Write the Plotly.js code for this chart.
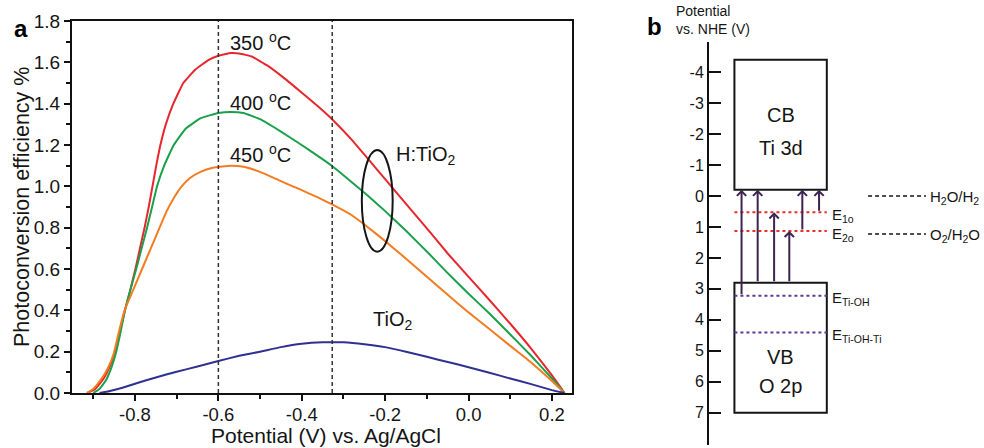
<!DOCTYPE html>
<html><head><meta charset="utf-8">
<script src="https://cdn.plot.ly/plotly-3.0.1.min.js"></script>
<style>html,body{margin:0;padding:0;background:#fff}#chart{width:984px;height:448px}</style>
</head><body><div id="chart"></div>
<script>
// ---------- Panel a data: photoconversion efficiency (%) vs potential (V vs Ag/AgCl)
const x350 = [-0.915,-0.895,-0.875,-0.86,-0.848,-0.836,-0.824,-0.811,-0.799,-0.788,-0.777,-0.767,-0.758,-0.749,-0.739,-0.726,-0.708,-0.684,-0.655,-0.625,-0.6,-0.57,-0.55,-0.52,-0.483,-0.44,-0.404,-0.36,-0.325,-0.28,-0.24,-0.2,-0.15,-0.093,-0.05,0.0,0.05,0.1,0.15,0.2,0.23];
const y350 = [0,0.02,0.07,0.13,0.2,0.3,0.4,0.5,0.6,0.7,0.8,0.9,1.0,1.1,1.2,1.3,1.4,1.5,1.565,1.61,1.632,1.645,1.643,1.628,1.585,1.52,1.46,1.385,1.32,1.225,1.13,1.035,0.915,0.78,0.675,0.562,0.45,0.335,0.215,0.085,0];
const x400 = [-0.9,-0.885,-0.87,-0.857,-0.845,-0.834,-0.824,-0.811,-0.797,-0.784,-0.771,-0.759,-0.747,-0.73,-0.707,-0.678,-0.642,-0.6,-0.57,-0.54,-0.5,-0.45,-0.404,-0.36,-0.325,-0.28,-0.24,-0.2,-0.15,-0.093,-0.05,0.0,0.05,0.1,0.15,0.2,0.23];
const y400 = [0,0.02,0.06,0.12,0.2,0.3,0.4,0.5,0.6,0.7,0.8,0.9,1.0,1.1,1.2,1.28,1.33,1.355,1.36,1.355,1.325,1.265,1.205,1.145,1.095,1.02,0.952,0.88,0.785,0.67,0.58,0.48,0.385,0.283,0.18,0.07,0];
const x450 = [-0.915,-0.9,-0.88,-0.865,-0.851,-0.838,-0.825,-0.804,-0.783,-0.762,-0.741,-0.724,-0.705,-0.688,-0.668,-0.643,-0.613,-0.57,-0.54,-0.5,-0.45,-0.404,-0.36,-0.325,-0.28,-0.24,-0.2,-0.15,-0.093,-0.05,0.0,0.05,0.1,0.15,0.2,0.23];
const y450 = [0,0.02,0.07,0.12,0.19,0.3,0.4,0.5,0.6,0.7,0.8,0.88,0.95,1.0,1.04,1.07,1.09,1.1,1.095,1.07,1.025,0.985,0.945,0.91,0.86,0.8,0.735,0.65,0.55,0.475,0.39,0.31,0.228,0.148,0.058,0];
const xTiO2 = [-0.885,-0.86,-0.83,-0.8,-0.75,-0.7,-0.65,-0.6,-0.55,-0.5,-0.45,-0.4,-0.35,-0.3,-0.25,-0.2,-0.15,-0.1,-0.05,0.0,0.05,0.1,0.15,0.2,0.23];
const yTiO2 = [0,0.01,0.025,0.045,0.075,0.103,0.128,0.155,0.18,0.2,0.222,0.238,0.245,0.245,0.236,0.222,0.2,0.175,0.15,0.125,0.098,0.07,0.043,0.014,0];
const seriesNames = ['350 <sup>o</sup>C','400 <sup>o</sup>C','450 <sup>o</sup>C','TiO<sub>2</sub>'];
const seriesLabelY = [1.70, 1.41, 1.16];
const markedPotentials = [-0.6, -0.327];
const xTickVals = [-0.8,-0.6,-0.4,-0.2,0.0,0.2];
const xTickText = ['-0.8','-0.6','-0.4','-0.2','0.0','0.2'];
const yTickVals = [0.0,0.2,0.4,0.6,0.8,1.0,1.2,1.4,1.6,1.8];
const yTickText = ['0.0','0.2','0.4','0.6','0.8','1.0','1.2','1.4','1.6','1.8'];

// ---------- Panel b data: band diagram, potential vs NHE (V)
const nheTicks = [-4,-3,-2,-1,0,1,2,3,4,5,6,7];
const nheTickText = ['-4','-3','-2','-1','0','1','2','3','4','5','6','7'];
const bandTop = [-4.4, 2.8];
const bandBottom = [-0.2, 7.0];
const bandText = [['CB','Ti 3d'],['VB','O 2p']];
const bandTextY = [[-2.6,-1.55],[5.2,6.15]];
const levelNames = ['E<sub>1o</sub>','E<sub>2o</sub>','E<sub>Ti-OH</sub>','E<sub>Ti-OH-Ti</sub>'];
const levelValues = [0.53, 1.13, 3.22, 4.41];
const redoxNames = ['H<sub>2</sub>O/H<sub>2</sub>','O<sub>2</sub>/H<sub>2</sub>O'];
const redoxValues = [0, 1.23];
const transitionFrom = [3.22, 2.8, 2.8, 2.8, 1.13, 0.53];
const transitionTo = [-0.2, -0.2, 0.53, 1.13, -0.2, -0.2];

// ---------- layout constants (positions / styles)
const W = 984, H = 448;
const PX = v => v / W, PY = v => 1 - v / H;
const FONT = 'Liberation Sans, Arial, Helvetica, sans-serif';
const INK = '#151515';
const curveColors = ['#e8262d','#19a04b','#f47b20','#2e3192'];
const boxL = 0.82, boxR = 3.80;           // schematic x-positions in panel b
const arrowX = [1.05, 1.57, 2.10, 2.59, 3.01, 3.55];
const levelColors = ['#e8302a','#e8302a','#5b3a9a','#5b3a9a'];
const redoxX = [5.13, 7.0];

const traces = [];
const xs = [x350, x400, x450, xTiO2], ys = [y350, y400, y450, yTiO2];
for (let i = 0; i < 4; i++) {
  traces.push({x: xs[i], y: ys[i], type: 'scatter', mode: 'lines', xaxis: 'x', yaxis: 'y',
    line: {color: curveColors[i], width: 2, shape: 'spline', smoothing: 0.35}, hoverinfo: 'skip', showlegend: false});
}
// panel b level lines
levelValues.forEach((v, i) => {
  traces.push({x: [boxL, boxR], y: [v, v], type: 'scatter', mode: 'lines', xaxis: 'x2', yaxis: 'y2',
    line: {color: levelColors[i], width: 2, dash: 'dot'}, hoverinfo: 'skip', showlegend: false});
});
redoxValues.forEach(v => {
  traces.push({x: redoxX, y: [v, v], type: 'scatter', mode: 'lines', xaxis: 'x2', yaxis: 'y2',
    line: {color: INK, width: 1.5, dash: '4px,3px'}, hoverinfo: 'skip', showlegend: false});
});

const shapes = [];
markedPotentials.forEach(v => shapes.push({type: 'line', xref: 'x', yref: 'y', x0: v, x1: v, y0: 0, y1: 1.8,
  line: {color: '#333', width: 1.5, dash: '4px,3px'}}));
shapes.push({type: 'circle', xref: 'x', yref: 'y', x0: -0.256, x1: -0.182, y0: 0.684, y1: 1.176,
  line: {color: INK, width: 2}});
bandTop.forEach((t, i) => shapes.push({type: 'rect', xref: 'x2', yref: 'y2', x0: boxL, x1: boxR, y0: t, y1: bandBottom[i],
  line: {color: INK, width: 2}, layer: 'below'}));

const ann = [];
const txt = (o) => Object.assign({showarrow: false, font: {family: FONT, size: 20, color: INK}}, o);
// panel a curve labels
for (let i = 0; i < 3; i++) ann.push(txt({xref: 'x', yref: 'y', x: -0.578, y: seriesLabelY[i], xanchor: 'left', yanchor: 'middle', text: seriesNames[i]}));
ann.push(txt({xref: 'x', yref: 'y', x: -0.233, y: 0.35, xanchor: 'left', yanchor: 'middle', text: seriesNames[3]}));
ann.push(txt({xref: 'x', yref: 'y', x: -0.178, y: 1.15, xanchor: 'left', yanchor: 'middle', text: 'H:TiO<sub>2</sub>'}));
// axis titles (panel a)
ann.push(txt({xref: 'paper', yref: 'paper', x: PX(22), y: PY(207), textangle: -90, xanchor: 'center', yanchor: 'middle', text: 'Photoconversion efficiency %', font: {family: FONT, size: 21.5, color: INK}}));
ann.push(txt({xref: 'paper', yref: 'paper', x: PX(326), y: PY(435), xanchor: 'center', yanchor: 'middle', text: 'Potential (V) vs. Ag/AgCl', font: {family: FONT, size: 21, color: INK}}));
// panel letters
ann.push(txt({xref: 'paper', yref: 'paper', x: PX(21), y: PY(28), xanchor: 'center', yanchor: 'middle', text: '<b>a</b>', font: {family: FONT, size: 24, color: '#000'}}));
ann.push(txt({xref: 'paper', yref: 'paper', x: PX(654), y: PY(26), xanchor: 'center', yanchor: 'middle', text: '<b>b</b>', font: {family: FONT, size: 24, color: '#000'}}));
// panel b axis title
ann.push(txt({xref: 'paper', yref: 'paper', x: PX(674), y: PY(20), xanchor: 'left', yanchor: 'middle', align: 'left', text: 'Potential<br>vs. NHE (V)', font: {family: FONT, size: 14, color: INK}}));
// band texts
bandText.forEach((pair, i) => pair.forEach((t, j) => ann.push(txt({xref: 'x2', yref: 'y2', x: (boxL + boxR) / 2, y: bandTextY[i][j], text: t}))));
// level labels
levelValues.forEach((v, i) => ann.push(txt({xref: 'x2', yref: 'y2', x: boxR + 0.1, y: v + 0.1, xanchor: 'left', yanchor: 'middle', text: levelNames[i], font: {family: FONT, size: 15, color: INK}})));
redoxValues.forEach((v, i) => ann.push(txt({xref: 'x2', yref: 'y2', x: redoxX[1] + 0.06, y: v + 0.06, xanchor: 'left', yanchor: 'middle', text: redoxNames[i], font: {family: FONT, size: 15, color: INK}})));
// transition arrows
transitionFrom.forEach((f, i) => ann.push({xref: 'x2', yref: 'y2', axref: 'x2', ayref: 'y2', x: arrowX[i], y: transitionTo[i], ax: arrowX[i], ay: f,
  text: '', showarrow: true, arrowhead: 4, arrowsize: 0.9, arrowwidth: 2, arrowcolor: '#3e2452', standoff: 0}));

const axisA = {showgrid: false, zeroline: false, showline: true, linewidth: 2, linecolor: '#111', mirror: true,
  ticks: 'outside', ticklen: 6, tickwidth: 2, tickcolor: '#111', tickfont: {family: FONT, size: 19, color: INK}};
const layout = {
  width: W, height: H, margin: {l: 0, r: 0, t: 0, b: 0}, paper_bgcolor: '#fff', plot_bgcolor: '#fff', showlegend: false,
  xaxis: Object.assign({}, axisA, {domain: [PX(72), PX(572)], range: [-0.951, 0.248], anchor: 'y',
    tickvals: xTickVals, ticktext: xTickText, tickfont: {family: FONT, size: 18.5, color: INK}, ticklabelstandoff: -2,
    minor: {tickvals: [-0.9,-0.7,-0.5,-0.3,-0.1,0.1], ticks: 'outside', ticklen: 4, tickwidth: 2, tickcolor: '#111'}}),
  yaxis: Object.assign({}, axisA, {domain: [PY(393), PY(21)], range: [0, 1.8], anchor: 'x',
    tickvals: yTickVals, ticktext: yTickText, minor: {tickvals: [0.1,0.3,0.5,0.7,0.9,1.1,1.3,1.5,1.7], ticks: 'outside', ticklen: 4, tickwidth: 2, tickcolor: '#111'}}),
  xaxis2: {domain: [PX(709), 1], range: [0, 8.87], anchor: 'y2', visible: false, showgrid: false, zeroline: false},
  yaxis2: {domain: [PY(445), PY(42)], range: [8.04, -4.97], anchor: 'x2', showgrid: false, zeroline: false, showline: true,
    linewidth: 2, linecolor: '#111', ticks: 'inside', ticklen: 12, tickwidth: 2, tickcolor: '#111',
    tickvals: nheTicks, ticktext: nheTickText, tickfont: {family: FONT, size: 16, color: INK}},
  shapes: shapes, annotations: ann
};
Plotly.newPlot('chart', traces, layout, {displayModeBar: false, staticPlot: true});
</script></body></html>
